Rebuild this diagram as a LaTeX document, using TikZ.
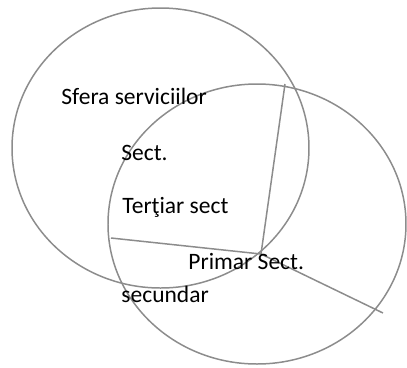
\documentclass[tikz,border=0pt]{standalone}
\usepackage{fontspec}
\setmainfont{Carlito}
\usetikzlibrary{positioning}

\begin{document}
\begin{tikzpicture}[x=0.468pt,y=-0.468pt,
  ring/.style={draw=black!45,line width=0.7pt},
  lbl/.style={anchor=base west,inner sep=0pt,font=\fontsize{11}{13}\selectfont}]
\useasboundingbox (0,0) rectangle (407,367);
% the two spheres
\draw[ring] (160.5,148) ellipse [x radius=148.5,y radius=140];
\draw[ring] (257,224) ellipse [x radius=149,y radius=140];
% spokes from the common point
\coordinate (hub) at (261,254);
\coordinate (top) at (285,84);
\coordinate (west) at (111,238);
\coordinate (east) at (383,313);
\foreach \e in {top,west,east}{
  \draw[ring] (hub)--(\e);}
% labels
\node[lbl] (sfera) at (61,104) {Sfera serviciilor};
\node[lbl] (sect) at (121,160) {Sect.};
\node[lbl] (tert) at (122,213) {Terţiar sect};
\node[lbl] (prim) at (188,269) {Primar Sect.};
\node[lbl] (sec) at (121,302) {secundar};
\end{tikzpicture}
\end{document}
